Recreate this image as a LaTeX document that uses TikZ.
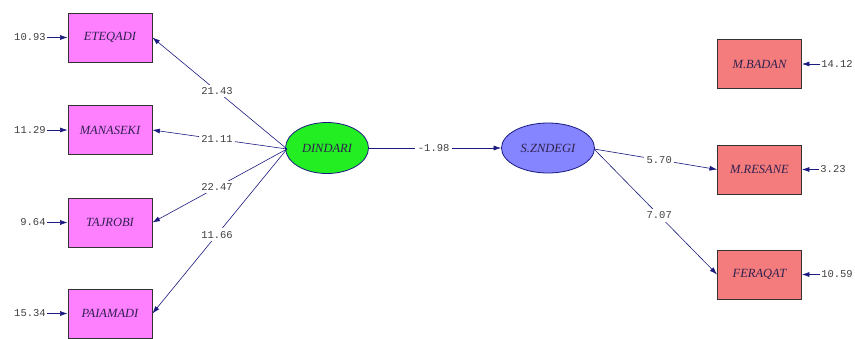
\documentclass[tikz,border=0pt]{standalone}
\usepackage{fontspec}
\setmainfont{Liberation Serif}
\newfontfamily\numfont{Liberation Mono}
\usetikzlibrary{arrows.meta,shapes.geometric}
\definecolor{boxmag}{HTML}{FF80FF}
\definecolor{boxsal}{HTML}{F47C7C}
\definecolor{ellgreen}{HTML}{22EE22}
\definecolor{ellblue}{HTML}{8585FF}
\definecolor{linenavy}{HTML}{1A1A80}
\definecolor{txtdark}{HTML}{302050}
\tikzset{
  obsbox/.style={draw=black!80, line width=0.9pt, minimum width=84pt, minimum height=49pt, inner sep=0pt,
    font=\fontsize{12.5}{13}\selectfont\itshape, text=txtdark},
  latent/.style={draw=linenavy, ellipse, line width=0.8pt, inner sep=0pt, font=\fontsize{12.5}{13}\selectfont\itshape, text=txtdark},
  errlab/.style={font=\numfont\fontsize{10.5}{11}\selectfont, text=black!75, inner sep=1pt},
  conn/.style={draw=linenavy, line width=0.6pt, -{Latex[length=7.5pt,width=5pt]}},
  coef/.style={font=\numfont\fontsize{10.5}{11}\selectfont, text=black!75, fill=white, inner sep=2.5pt, pos=0.52}
}
\begin{document}
\begin{tikzpicture}[x=1pt,y=-1pt]
\useasboundingbox (0,0) rectangle (855,338);
% left observed
\node[obsbox, fill=boxmag] (ete) at (110,37.5) {ETEQADI};
\node[obsbox, fill=boxmag] (man) at (110,130) {MANASEKI};
\node[obsbox, fill=boxmag] (taj) at (110,222.5) {TAJROBI};
\node[obsbox, fill=boxmag] (pai) at (110,313.5) {PAIAMADI};
% right observed
\node[obsbox, fill=boxsal] (bad) at (759.5,64) {M.BADAN};
\node[obsbox, fill=boxsal] (res) at (759.5,169.5) {M.RESANE};
\node[obsbox, fill=boxsal] (fer) at (759.5,274.5) {FERAQAT};
% latent
\node[latent, fill=ellgreen, minimum width=83pt, minimum height=51pt] (din) at (327,148) {DINDARI};
\node[latent, fill=ellblue, minimum width=93pt, minimum height=50pt] (szn) at (548,148) {S.ZNDEGI};
% errors
\node[errlab] (e1) at (30,37.5) {10.93};
\node[errlab] (e2) at (30,130) {11.29};
\node[errlab] (e3) at (33,222.5) {9.64};
\node[errlab] (e4) at (30,313.5) {15.34};
\node[errlab] (e5) at (837,64) {14.12};
\node[errlab] (e6) at (833,169.5) {3.23};
\node[errlab] (e7) at (837,274.5) {10.59};
\foreach \e/\b in {e1/ete,e2/man,e3/taj,e4/pai,e5/bad,e6/res,e7/fer}
  \draw[conn] (\e) -- (\b);
% convergence points
\coordinate (dl) at (287,149);
\coordinate (sr) at (594,149);
\draw[conn] (dl) -- node[coef] {21.43} (ete.east);
\draw[conn] (dl) -- node[coef] {21.11} (man.east);
\draw[conn] (dl) -- node[coef] {22.47} (taj.east);
\draw[conn] (dl) -- node[coef] {11.66} (pai.east);
\draw[conn] (din) -- node[coef, pos=0.49] {-1.98} (szn);
\draw[conn] (sr) -- node[coef, pos=0.53] {5.70} (res.west);
\draw[conn] (sr) -- node[coef, pos=0.53] {7.07} (fer.west);
\end{tikzpicture}
\end{document}
